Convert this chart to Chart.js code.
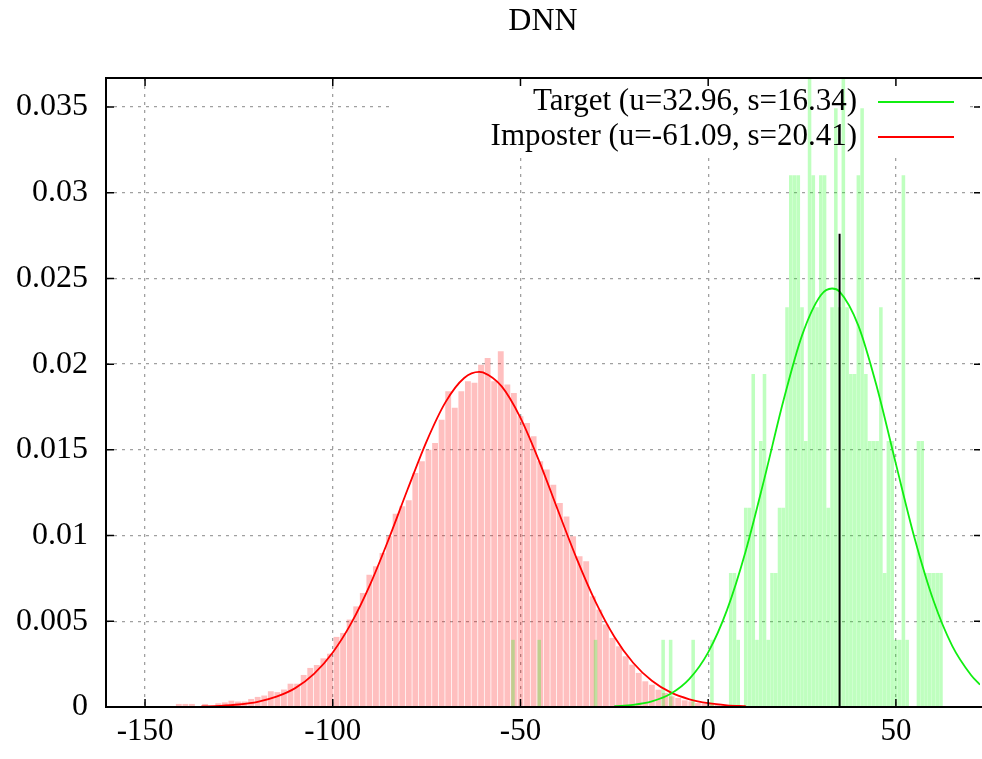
<!DOCTYPE html>
<html>
<head>
<meta charset="utf-8">
<title>DNN</title>
<script src="https://cdn.jsdelivr.net/npm/chart.js@4.4.1/dist/chart.umd.min.js"></script>
<style>
  html, body { margin: 0; padding: 0; background: #fff; }
</style>
</head>
<body>
<canvas id="chart" width="982" height="759"></canvas>
<script>
// axis ticks
const xTicks = [-150, -100, -50, 0, 50];
const yTicks = [0, 0.005, 0.01, 0.015, 0.02, 0.025, 0.03, 0.035];
const yTickLabels = ['0', '0.005', '0.01', '0.015', '0.02', '0.025', '0.03', '0.035'];

// imposter histogram (bins of 1.75, first bin centred at -141)
const impBinWidth = 1.75;
const impFirstBin = -141.0;
const impValues = [
  0.00016, 0.00016, 0.00016, 0, 0.00016, 0, 0.0002, 0.00025, 0.00035, 0.0003,
  0.0003, 0.00045, 0.00057, 0.00065, 0.0009, 0.00085, 0.001, 0.00134, 0.00134, 0.00185,
  0.00226, 0.00243, 0.00282, 0.00309,
  0.00407, 0.0043, 0.00508, 0.00585, 0.00663, 0.0077, 0.00819, 0.00897, 0.00994, 0.01126,
  0.01169, 0.01204, 0.01363, 0.01431, 0.01499, 0.01538, 0.01674, 0.0184, 0.01743, 0.0184,
  0.01898, 0.01889, 0.01995, 0.02034, 0.01898, 0.02073, 0.01879, 0.0183, 0.01694, 0.01655,
  0.01577, 0.01431, 0.01383, 0.01295, 0.01188, 0.0111, 0.00994, 0.00877, 0.00848, 0.00644,
  0.00566, 0.0048, 0.00401, 0.00352, 0.00294, 0.00245, 0.00197, 0.00148, 0.00128, 0.00099,
  0.0008, 0.0006, 0.00051, 0.00037, 0.00031, 0.00021, 0.00018, 0.00016, 0.0001, 0.0001,
  0.00008, 0.00006, 0.00005
];

// target histogram (bins of 1)
const tgtX = [-52, -45, -30, -12, -10, -4, 1, 6, 7, 8, 10, 11, 12, 13, 14, 15, 16, 17, 18, 19,
  20, 21, 22, 23, 24, 25, 26, 27, 28, 29, 30, 31, 32, 33, 34, 35, 36, 37, 38, 39,
  40, 41, 42, 43, 44, 45, 46, 47, 48, 49, 50, 51, 52, 53, 56, 57, 58, 59, 60, 61, 62];
const tgtValues = [0.0039, 0.0039, 0.0039, 0.0039, 0.0039, 0.0039, 0.0039, 0.0078, 0.0078, 0.0039,
  0.0116, 0.0116, 0.0194, 0.0039, 0.0155, 0.0194, 0.0039, 0.0078, 0.0078, 0.0116,
  0.0116, 0.0233, 0.031, 0.031, 0.031, 0.0233, 0.0155, 0.0388, 0.031, 0.0233,
  0.031, 0.031, 0.0116, 0.0233, 0.0349, 0.0233, 0.0388, 0.0233, 0.0194, 0.0194,
  0.031, 0.0349, 0.0194, 0.0155, 0.0155, 0.0155, 0.0233, 0.0078, 0.0155, 0.0155,
  0.0039, 0.0039, 0.031, 0.0039, 0.0155, 0.0155, 0.0078, 0.0078, 0.0078, 0.0078, 0.0078];

// fitted curves
const impCurveX = [-135, -130, -125, -120, -115, -110, -105, -100, -95, -90, -85, -80, -75, -70, -65,
  -61, -60, -55, -50, -45, -40, -35, -30, -25, -20, -15, -10, -5, 0, 5, 10];
const impCurveY = [0.00003, 0.000065, 0.000145, 0.0003, 0.0006, 0.0011, 0.00193, 0.00318, 0.00492, 0.00717,
  0.00985, 0.01273, 0.0155, 0.01777, 0.01919, 0.01955, 0.01952, 0.0187, 0.01687, 0.01433,
  0.01146, 0.00864, 0.00613, 0.0041, 0.00258, 0.00153, 0.00085, 0.00045, 0.00022, 0.0001, 0.000045];
const tgtCurveX = [-25, -20, -15, -10, -5, 0, 5, 10, 15, 20, 25, 30, 33, 35, 40, 45, 50, 55, 60, 65, 70, 72.4];
const tgtCurveY = [0.000045, 0.000128, 0.00033, 0.00077, 0.00164, 0.00319, 0.00565, 0.0091, 0.01335, 0.01783,
  0.02168, 0.02402, 0.02441, 0.02423, 0.02225, 0.01861, 0.01418, 0.00983, 0.00621, 0.00357, 0.00187, 0.0013];

// threshold marker
const markerX = 35;
const markerTop = 0.0276;

const impBars = impValues.map((v, i) => ({ x: impFirstBin + i * impBinWidth, y: v }));
const tgtBars = tgtX.map((x, i) => ({ x: x, y: tgtValues[i] }));
const impCurve = impCurveX.map((x, i) => ({ x: x, y: impCurveY[i] }));
const tgtCurve = tgtCurveX.map((x, i) => ({ x: x, y: tgtCurveY[i] }));

const serif = '"Liberation Serif", "Times New Roman", serif';
const keyBox = { left: 393, right: 966, bottom: 155 };

// gnuplot-like border with inward ticks and an opaque key area
const framePlugin = {
  id: 'frame',
  beforeDatasetsDraw(chart) {
    const { ctx, chartArea: a } = chart;
    ctx.save();
    ctx.fillStyle = '#fff';
    ctx.fillRect(keyBox.left, a.top + 1, keyBox.right - keyBox.left, keyBox.bottom - a.top);
    ctx.restore();
  },
  afterDatasetsDraw(chart) {
    const { ctx, chartArea: a, scales } = chart;
    ctx.save();
    ctx.strokeStyle = '#000';
    ctx.lineWidth = 2;
    ctx.beginPath();
    ctx.moveTo(a.right + 2, a.top);
    ctx.lineTo(a.left, a.top);
    ctx.lineTo(a.left, a.bottom);
    ctx.lineTo(a.right + 2, a.bottom);
    ctx.stroke();
    ctx.lineWidth = 1.5;
    ctx.beginPath();
    xTicks.forEach(v => {
      const px = scales.x.getPixelForValue(v);
      ctx.moveTo(px, a.bottom); ctx.lineTo(px, a.bottom - 8);
      ctx.moveTo(px, a.top); ctx.lineTo(px, a.top + 8);
    });
    yTicks.forEach(v => {
      const py = scales.y.getPixelForValue(v);
      ctx.moveTo(a.left, py); ctx.lineTo(a.left + 8, py);
      ctx.moveTo(a.right, py); ctx.lineTo(a.right - 6, py);
    });
    ctx.stroke();
    ctx.restore();
  },
  afterDraw(chart) {
    const { ctx, chartArea: a } = chart;
    ctx.save();
    ctx.fillStyle = '#000';
    ctx.font = '32px ' + serif;
    ctx.textAlign = 'center';
    ctx.textBaseline = 'middle';
    ctx.fillText('DNN', (a.left + a.right) / 2, 22);
    // key
    ctx.textAlign = 'right';
    ctx.font = '31px ' + serif;
    const rows = chart.data.datasets.filter(d => d.inKey);
    rows.forEach((d, i) => {
      const yy = 102 + i * 35;
      ctx.fillStyle = '#000';
      ctx.fillText(d.label, 857, yy);
      ctx.strokeStyle = d.borderColor;
      ctx.lineWidth = 2;
      ctx.beginPath();
      ctx.moveTo(878, yy);
      ctx.lineTo(954, yy);
      ctx.stroke();
    });
    ctx.restore();
  }
};

new Chart(document.getElementById('chart'), {
  type: 'bar',
  data: {
    datasets: [
      {
        type: 'line',
        label: 'threshold',
        data: [{ x: markerX, y: 0 }, { x: markerX, y: markerTop }],
        borderColor: '#000',
        borderWidth: 2,
        pointRadius: 0,
        order: 1
      },
      {
        type: 'line',
        label: 'Target (u=32.96, s=16.34)',
        inKey: true,
        data: tgtCurve,
        borderColor: '#11ee11',
        borderWidth: 1.8,
        pointRadius: 0,
        cubicInterpolationMode: 'monotone',
        order: 2
      },
      {
        type: 'line',
        label: 'Imposter (u=-61.09, s=20.41)',
        inKey: true,
        data: impCurve,
        borderColor: '#ff0000',
        borderWidth: 1.8,
        pointRadius: 0,
        cubicInterpolationMode: 'monotone',
        order: 3
      },
      {
        label: 'target hist',
        data: tgtBars,
        backgroundColor: 'rgba(0,255,0,0.25)',
        borderWidth: 0,
        barThickness: 2.9,
        grouped: false,
        order: 4
      },
      {
        label: 'imposter hist',
        data: impBars,
        backgroundColor: 'rgba(255,0,0,0.25)',
        borderWidth: 0,
        barThickness: 5.2,
        grouped: false,
        order: 5
      }
    ]
  },
  options: {
    responsive: false,
    animation: false,
    layout: { padding: { top: 78, right: 2, bottom: 0, left: 0 } },
    plugins: {
      legend: { display: false },
      tooltip: { enabled: false },
      title: { display: false }
    },
    scales: {
      x: {
        type: 'linear',
        offset: false,
        min: -160.4,
        max: 72.4,
        afterBuildTicks: s => { s.ticks = xTicks.map(v => ({ value: v })); },
        afterFit: s => { s.height = 52; },
        grid: { color: '#a0a0a0', lineWidth: 1.3, drawTicks: false, offset: false },
        border: { display: false, dash: [3, 5] },
        ticks: { color: '#000', font: { family: serif, size: 31 }, padding: 6, maxRotation: 0 }
      },
      y: {
        type: 'linear',
        min: 0,
        max: 0.03669,
        afterBuildTicks: s => { s.ticks = yTicks.map(v => ({ value: v })); },
        afterFit: s => { s.width = 106; },
        grid: { color: '#a0a0a0', lineWidth: 1.3, drawTicks: false },
        border: { display: false, dash: [3, 5] },
        ticks: {
          color: '#000',
          font: { family: serif, size: 32 },
          padding: 18,
          callback: (v) => {
            const i = yTicks.indexOf(v);
            return i >= 0 ? yTickLabels[i] : '';
          }
        }
      }
    }
  },
  plugins: [framePlugin]
});
</script>
</body>
</html>
